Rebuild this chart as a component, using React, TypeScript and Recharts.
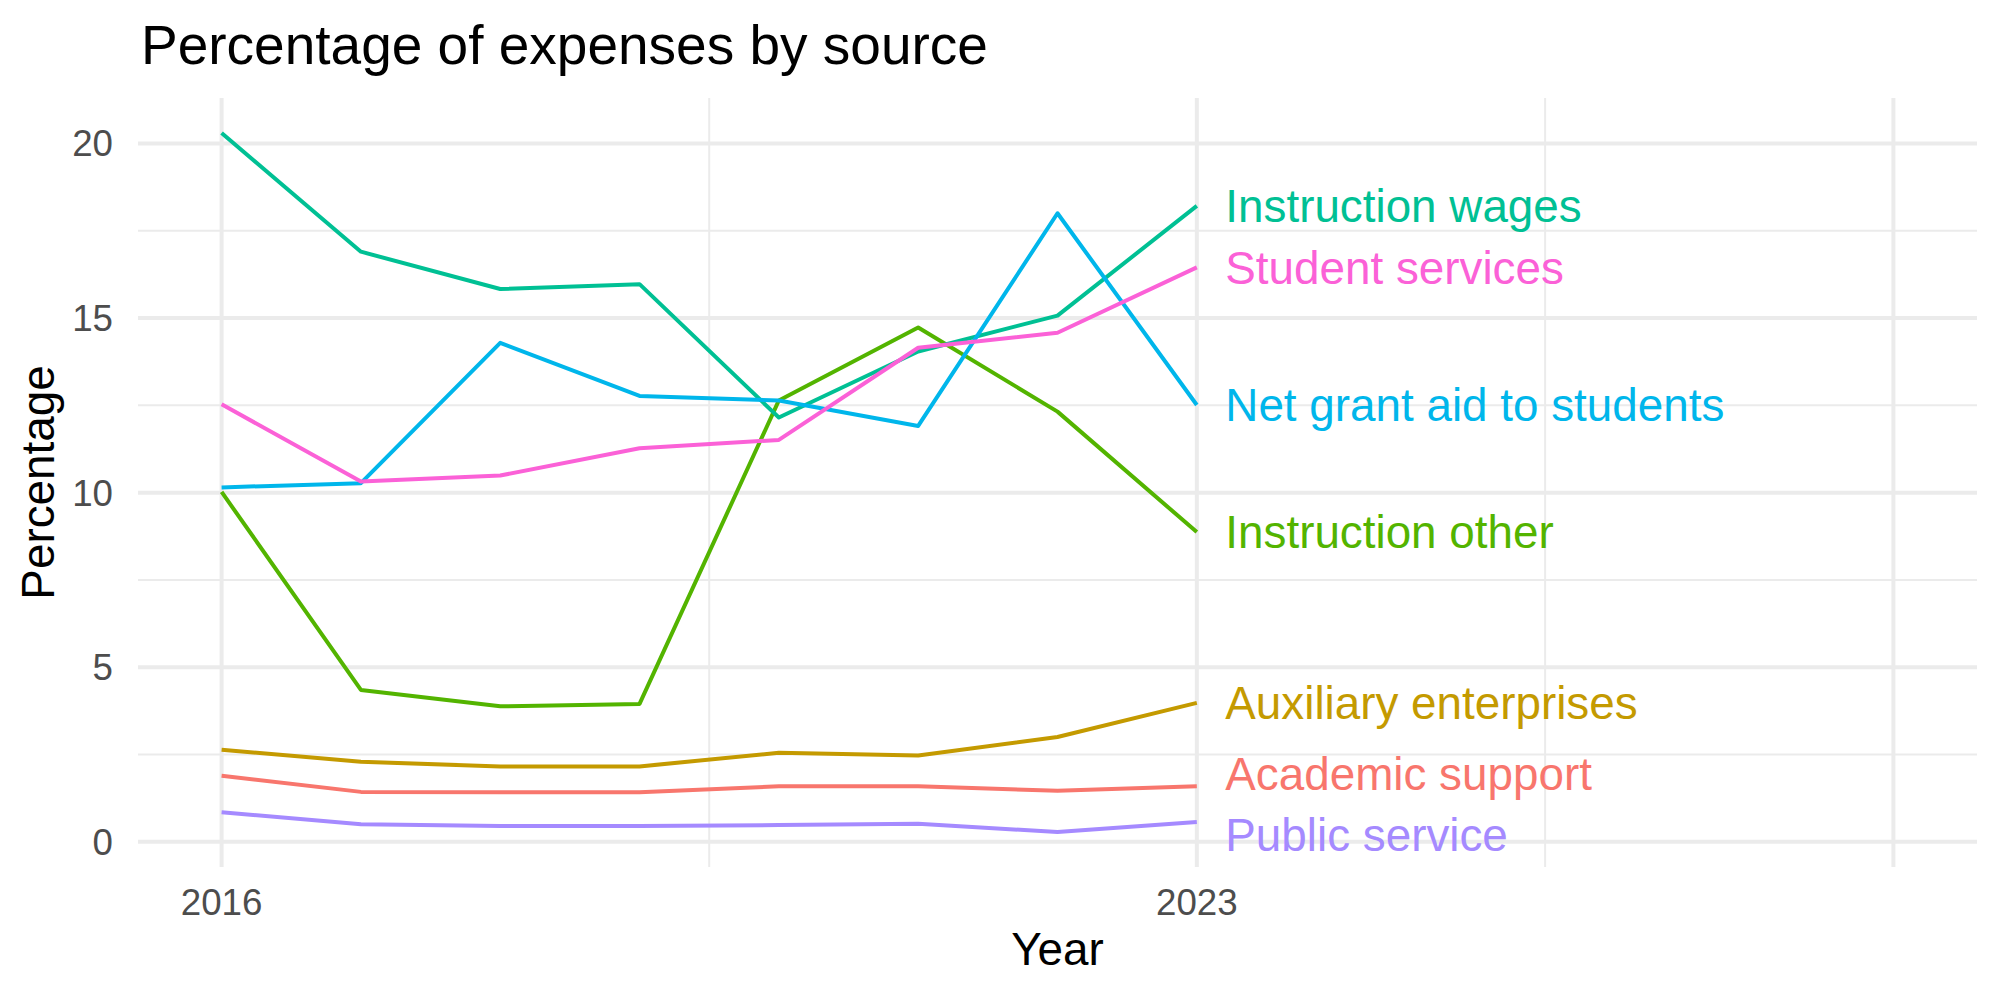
import { LineChart, Line, XAxis, YAxis, CartesianGrid } from 'recharts'

// Share of expenses by source, 2016–2023 (percent)
const years = [2016, 2017, 2018, 2019, 2020, 2021, 2022, 2023]

const academicSupport = [1.89, 1.43, 1.42, 1.42, 1.59, 1.59, 1.46, 1.59]
const auxiliaryEnterprises = [2.64, 2.29, 2.16, 2.16, 2.55, 2.47, 3.0, 3.98]
const instructionOther = [10.02, 4.35, 3.88, 3.95, 12.64, 14.73, 12.32, 8.87]
const instructionWages = [20.3, 16.9, 15.83, 15.97, 12.15, 14.04, 15.07, 18.21]
const netGrantAid = [10.15, 10.27, 14.29, 12.77, 12.64, 11.91, 18.0, 12.51]
const publicService = [0.85, 0.5, 0.45, 0.45, 0.48, 0.52, 0.28, 0.57]
const studentServices = [12.53, 10.32, 10.49, 11.27, 11.51, 14.15, 14.58, 16.45]

const yTicks = [0, 5, 10, 15, 20]
const yMinor = [2.5, 7.5, 12.5, 17.5]
const xTicks = [2016, 2023]
const xMajor = [2016, 2023, 2028]
const xMinor = [2019.5, 2025.5]

const series = [
  { key: 'academic', name: 'Academic support', color: '#F8766D', values: academicSupport },
  { key: 'auxiliary', name: 'Auxiliary enterprises', color: '#C49A00', values: auxiliaryEnterprises },
  { key: 'instrOther', name: 'Instruction other', color: '#53B400', values: instructionOther },
  { key: 'instrWages', name: 'Instruction wages', color: '#00C094', values: instructionWages },
  { key: 'grant', name: 'Net grant aid to students', color: '#00B6EB', values: netGrantAid },
  { key: 'public', name: 'Public service', color: '#A58AFF', values: publicService },
  { key: 'student', name: 'Student services', color: '#FB61D7', values: studentServices },
]

const rows = years.map((year, i) => {
  const row: Record<string, number> = { year }
  series.forEach(s => { row[s.key] = s.values[i] })
  return row
})

const W = 2000
const H = 1000
const FONT = '"Liberation Sans", Arial, Helvetica, sans-serif'
const GRID = '#EBEBEB'
const PLOT_BOTTOM = 867

// end labels for the two lowest lines are pushed apart so they don't overlap
const labelNudge: Record<string, number> = { academic: -13, public: 13 }

function XTick({ x, payload }: any) {
  return (
    <text x={x} y={PLOT_BOTTOM + 48} textAnchor="middle" fontSize={36.7} fill="#4D4D4D" fontFamily={FONT}>
      {payload.value}
    </text>
  )
}

function YTick({ y, payload }: any) {
  return (
    <text x={113} y={y + 13} textAnchor="end" fontSize={36.7} fill="#4D4D4D" fontFamily={FONT}>
      {payload.value}
    </text>
  )
}

function endLabel(s: typeof series[number]) {
  const last = years.length - 1
  return (props: any) => {
    if (props.index !== last) return <g />
    return (
      <text
        x={props.x + 28.5}
        y={props.y + 16.4 + (labelNudge[s.key] ?? 0)}
        fontSize={45.8}
        fill={s.color}
        fontFamily={FONT}
      >
        {s.name}
      </text>
    )
  }
}

export default function App() {
  return (
    <div style={{ position: 'absolute', left: 0, top: 0, width: W, height: H, background: '#fff' }}>
      <LineChart width={W} height={H} data={rows} margin={{ top: 98, right: 23, left: 0, bottom: 0 }}>
        <CartesianGrid stroke={GRID} strokeWidth={2} horizontalValues={yMinor} verticalValues={xMinor} />
        <CartesianGrid stroke={GRID} strokeWidth={4} horizontalValues={yTicks} verticalValues={xMajor} />
        <XAxis
          dataKey="year"
          type="number"
          domain={[2015.4, 2028.6]}
          ticks={xTicks}
          allowDataOverflow
          axisLine={false}
          tickLine={false}
          height={133}
          tick={<XTick />}
        />
        <YAxis
          type="number"
          domain={[-0.721, 21.301]}
          ticks={yTicks}
          allowDataOverflow
          axisLine={false}
          tickLine={false}
          width={138}
          tick={<YTick />}
        />
        {series.map(s => (
          <Line
            key={s.key}
            dataKey={s.key}
            name={s.name}
            type="linear"
            stroke={s.color}
            strokeWidth={4}
            strokeLinejoin="round"
            dot={false}
            activeDot={false}
            isAnimationActive={false}
            label={endLabel(s)}
          />
        ))}
      </LineChart>
      <svg width={W} height={H} style={{ position: 'absolute', left: 0, top: 0, pointerEvents: 'none' }}>
        <text x={141} y={63.5} fontSize={55} fill="#000" fontFamily={FONT}>
          Percentage of expenses by source
        </text>
        <text x={1057.5} y={965} textAnchor="middle" fontSize={45.8} fill="#000" fontFamily={FONT}>
          Year
        </text>
        <text transform="translate(54,482.5) rotate(-90)" textAnchor="middle" fontSize={45.8} fill="#000" fontFamily={FONT}>
          Percentage
        </text>
      </svg>
    </div>
  )
}
